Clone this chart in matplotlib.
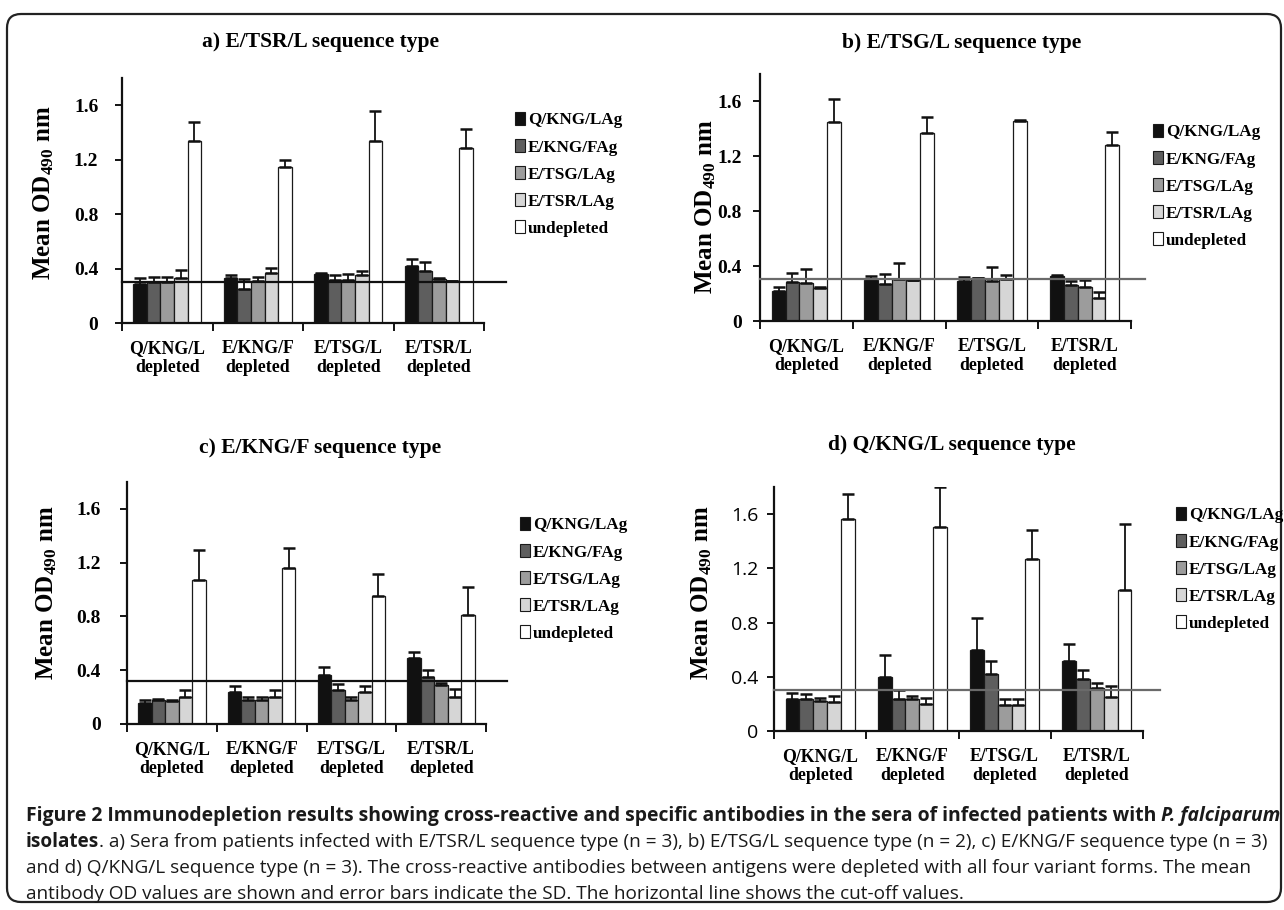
import numpy as np
import matplotlib
matplotlib.use("Agg")
import matplotlib.pyplot as plt
import matplotlib.transforms as mtransforms
from matplotlib.patches import FancyBboxPatch, Patch

# ---------------- data ----------------
groups = ["Q/KNG/L\ndepleted", "E/KNG/F\ndepleted", "E/TSG/L\ndepleted", "E/TSR/L\ndepleted"]
series = ["Q/KNG/LAg", "E/KNG/FAg", "E/TSG/LAg", "E/TSR/LAg", "undepleted"]
ytick_vals = [0, 0.4, 0.8, 1.2, 1.6]
ytick_labels = ["0", "0.4", "0.8", "1.2", "1.6"]
titles = ["a) E/TSR/L sequence type", "b) E/TSG/L sequence type",
          "c) E/KNG/F sequence type", "d) Q/KNG/L sequence type"]

# rows = series (Q/KNG/LAg, E/KNG/FAg, E/TSG/LAg, E/TSR/LAg, undepleted), cols = groups
a_mean = [[0.29, 0.33, 0.36, 0.42],
          [0.30, 0.25, 0.315, 0.38],
          [0.30, 0.305, 0.315, 0.32],
          [0.33, 0.365, 0.35, 0.305],
          [1.34, 1.145, 1.34, 1.285]]
a_sd = [[0.04, 0.025, 0.01, 0.05],
        [0.04, 0.07, 0.035, 0.07],
        [0.04, 0.035, 0.045, 0.01],
        [0.06, 0.04, 0.03, 0.005],
        [0.14, 0.05, 0.22, 0.14]]
a_cutoff = 0.30

b_mean = [[0.22, 0.30, 0.29, 0.325],
          [0.285, 0.27, 0.31, 0.26],
          [0.28, 0.305, 0.295, 0.245],
          [0.237, 0.296, 0.304, 0.168],
          [1.45, 1.37, 1.46, 1.28]]
b_sd = [[0.03, 0.03, 0.03, 0.008],
        [0.065, 0.07, 0.005, 0.03],
        [0.10, 0.115, 0.10, 0.055],
        [0.008, 0.004, 0.03, 0.04],
        [0.17, 0.12, 0.005, 0.10]]
b_cutoff = 0.305

c_mean = [[0.154, 0.24, 0.368, 0.49],
          [0.179, 0.179, 0.253, 0.353],
          [0.174, 0.179, 0.179, 0.288],
          [0.20, 0.20, 0.238, 0.204],
          [1.07, 1.16, 0.953, 0.811]]
c_sd = [[0.025, 0.043, 0.057, 0.044],
        [0.007, 0.021, 0.043, 0.049],
        [0.007, 0.021, 0.021, 0.015],
        [0.05, 0.056, 0.045, 0.059],
        [0.222, 0.148, 0.161, 0.209]]
c_cutoff = 0.32

d_mean = [[0.234, 0.398, 0.599, 0.52],
          [0.234, 0.234, 0.422, 0.383],
          [0.219, 0.234, 0.194, 0.318],
          [0.216, 0.201, 0.194, 0.251],
          [1.564, 1.502, 1.268, 1.039]]
d_sd = [[0.049, 0.166, 0.236, 0.123],
        [0.036, 0.069, 0.098, 0.069],
        [0.027, 0.022, 0.04, 0.035],
        [0.04, 0.042, 0.04, 0.082],
        [0.185, 0.296, 0.215, 0.486]]
d_cutoff = 0.30

caption_l1 = "Figure 2 Immunodepletion results showing cross-reactive and specific antibodies in the sera of infected patients with "
caption_l1_it = "P. falciparum"
caption_l2_b = "isolates"
caption_l2 = ". a) Sera from patients infected with E/TSR/L sequence type (n = 3), b) E/TSG/L sequence type (n = 2), c) E/KNG/F sequence type (n = 3)"
caption_l3 = "and d) Q/KNG/L sequence type (n = 3). The cross-reactive antibodies between antigens were depleted with all four variant forms. The mean"
caption_l4 = "antibody OD values are shown and error bars indicate the SD. The horizontal line shows the cut-off values."

# ---------------- style ----------------
W, H = 1284, 910
plt.rcParams["font.family"] = ["Liberation Serif", "DejaVu Serif"]
plt.rcParams["font.weight"] = "bold"
plt.rcParams["mathtext.fontset"] = "custom"
plt.rcParams["mathtext.rm"] = "Liberation Serif:bold"
plt.rcParams["mathtext.bf"] = "Liberation Serif:bold"
plt.rcParams["mathtext.it"] = "Liberation Serif:bold"

colors = ["#111111", "#5e5e5e", "#9c9c9c", "#d6d6d6", "#ffffff"]

fig = plt.figure(figsize=(W / 100, H / 100), dpi=100)
fig.patch.set_facecolor("white")

# rounded border
border = FancyBboxPatch((7, 8), 1274, 888, boxstyle="round,pad=0,rounding_size=14",
                        transform=None, facecolor="none", edgecolor="#222222", linewidth=1.6)
fig.patches.append(border)

panels = [
    dict(mean=a_mean, sd=a_sd, cut=a_cutoff, px=(122, 484, 78, 323), cut_end=506, cut_col="#111111",
         title=(320, 42), ylab=(44, 193), leg=(515, 123), ypad=12, sans=False),
    dict(mean=b_mean, sd=b_sd, cut=b_cutoff, px=(760, 1131, 74, 321), cut_end=1145, cut_col="#6a6a6a",
         title=(962, 43), ylab=(706, 207), leg=(1153, 135), ypad=8, sans=False),
    dict(mean=c_mean, sd=c_sd, cut=c_cutoff, px=(127, 486, 482, 724), cut_end=507, cut_col="#111111",
         title=(320, 448), ylab=(47, 593), leg=(520, 528), ypad=14, sans=False),
    dict(mean=d_mean, sd=d_sd, cut=d_cutoff, px=(774, 1143, 487, 731), cut_end=1160, cut_col="#6a6a6a",
         title=(952, 445), ylab=(702, 593), leg=(1176, 518), ypad=6, sans=True),
]

bar_w = 0.15
offsets = (np.arange(5) - 2) * bar_w
xpos = np.arange(len(groups))

for i, p in enumerate(panels):
    l, r, t, b = p["px"]
    ax = fig.add_axes([l / W, 1 - b / H, (r - l) / W, (b - t) / H])
    mean = np.array(p["mean"])
    sd = np.array(p["sd"])
    handles = []
    for s in range(5):
        ax.bar(xpos + offsets[s], mean[s], width=bar_w, color=colors[s],
               edgecolor="#1a1a1a", linewidth=0.9, zorder=2)
        ax.errorbar(xpos + offsets[s], mean[s], yerr=[np.zeros(4), sd[s]], fmt="none",
                    ecolor="#111111", elinewidth=1.3, capsize=4, capthick=1.8, zorder=3)
        handles.append(Patch(facecolor=colors[s], edgecolor="#1a1a1a", linewidth=0.8, label=series[s]))
    ax.set_xlim(-0.5, len(groups) - 0.5)
    ax.set_ylim(0, 1.8)
    for sp in ["top", "right"]:
        ax.spines[sp].set_visible(False)
    for sp in ["left", "bottom"]:
        ax.spines[sp].set_linewidth(1.6)
        ax.spines[sp].set_color("#111111")
    ax.set_yticks(ytick_vals)
    if p["sans"]:
        ax.set_yticklabels(ytick_labels, fontfamily="Open Sans", fontweight="normal", fontsize=14)
    else:
        ax.set_yticklabels(ytick_labels, fontsize=14, fontweight="bold")
    ax.tick_params(axis="y", direction="out", length=5, width=1.3, pad=p["ypad"])
    ax.set_xticks(np.arange(len(groups) + 1) - 0.5)
    ax.set_xticklabels([])
    ax.tick_params(axis="x", which="major", direction="out", length=6, width=1.3)
    ax.set_xticks(xpos, minor=True)
    ax.set_xticklabels(groups, minor=True, fontsize=12.8, fontweight="bold", linespacing=1.15)
    ax.tick_params(axis="x", which="minor", length=0, pad=12)
    # cut-off line
    trans = mtransforms.blended_transform_factory(ax.transAxes, ax.transData)
    ax.plot([0, (p["cut_end"] - l) / (r - l)], [p["cut"], p["cut"]], color=p["cut_col"],
            linewidth=1.6, transform=trans, clip_on=False, zorder=4)
    # title, y label
    fig.text(p["title"][0] / W, 1 - p["title"][1] / H, titles[i], ha="center", va="center",
             fontsize=15.5, fontweight="bold")
    fig.text(p["ylab"][0] / W, 1 - p["ylab"][1] / H, "Mean OD$_{490}$ nm", ha="center", va="center",
             rotation=90, fontsize=18, fontweight="bold")
    # legend
    lx, ly = p["leg"]
    fig.legend(handles=handles, loc="upper left", bbox_to_anchor=(lx / W, 1 - (ly - 11) / H),
               bbox_transform=fig.transFigure, frameon=False, borderpad=0, borderaxespad=0,
               handlelength=0.6, handleheight=0.8, handletextpad=0.15, labelspacing=0.62,
               prop=dict(family="Liberation Serif", weight="bold", size=12.3))

# ---------------- caption ----------------
renderer = fig.canvas.get_renderer()


def draw_line(runs, x0, y, size, target=None):
    objs = []
    for txt, kw in runs:
        objs.append(fig.text(0, 1 - y / H, txt, fontsize=size, ha="left", va="center",
                             color="#1a1a1a", **kw))

    def layout():
        x = x0
        for o in objs:
            o.set_x(x / W)
            x += o.get_window_extent(renderer).width
        return x - x0

    w = layout()
    if target is not None:
        ns = size * target / w
        for o in objs:
            o.set_fontsize(ns)
        layout()
        return ns
    return size


bold = dict(family="Open Sans", weight="bold")
boldit = dict(family="Open Sans", weight="bold", style="italic")
reg = dict(family="Open Sans", weight="normal")

draw_line([(caption_l1, bold), (caption_l1_it, boldit)], 26, 816, 12, target=1250)
s2 = draw_line([(caption_l2_b, bold), (caption_l2, reg)], 26, 842, 11, target=1250)
draw_line([(caption_l3, reg)], 26, 868, s2)
draw_line([(caption_l4, reg)], 26, 894, s2)

fig.savefig("out.png", dpi=100, facecolor="white")
